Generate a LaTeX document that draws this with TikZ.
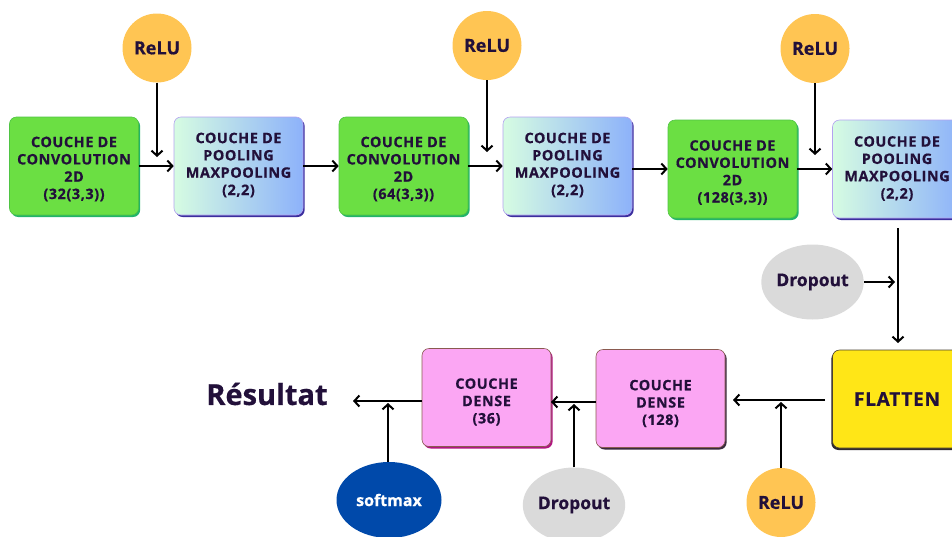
\documentclass[tikz,border=0pt]{standalone}
\usepackage{fontspec}
\setmainfont{Open Sans}[BoldFeatures={FakeBold=0.6}]
\newfontfamily\spaced{Open Sans}[LetterSpace=4, BoldFeatures={FakeBold=0.6}]
\usetikzlibrary{arrows.meta,shapes.geometric,shadows}

\definecolor{ink}{HTML}{22103A}
\definecolor{convfill}{HTML}{6BDF43}
\definecolor{convedge}{HTML}{4FC443}
\definecolor{convshadow}{HTML}{22B46A}
\definecolor{poolL}{HTML}{D6FCE2}
\definecolor{poolR}{HTML}{8DB2FA}
\definecolor{pooledge}{HTML}{B3A2F0}
\definecolor{poolshadow}{HTML}{3B2E9E}
\definecolor{densefill}{HTML}{FBA6F3}
\definecolor{denseedge}{HTML}{8A5A50}
\definecolor{denseshadowA}{HTML}{B0157F}
\definecolor{denseshadowB}{HTML}{3A2A3E}
\definecolor{flatfill}{HTML}{FFE617}
\definecolor{flatedge}{HTML}{4A4030}
\definecolor{flatshadow}{HTML}{2E2A30}
\definecolor{relu}{HTML}{FFC553}
\definecolor{dropgray}{HTML}{DADADA}
\definecolor{softblue}{HTML}{0049AA}

\tikzset{
  layerbox/.style={rounded corners=7pt, minimum width=129pt, minimum height=98pt,
    inner sep=0pt, line width=0.6pt},
  conv/.style={layerbox, fill=convfill, draw=convedge,
    general shadow={fill=convshadow, shadow xshift=1.6pt, shadow yshift=-2pt}},
  pool/.style={layerbox, left color=poolL, right color=poolR, draw=pooledge,
    general shadow={fill=poolshadow, shadow xshift=1.6pt, shadow yshift=-2pt}},
  dense/.style={layerbox, fill=densefill, draw=denseedge,
    general shadow={fill=#1, shadow xshift=1.6pt, shadow yshift=-2pt}},
  flat/.style={layerbox, fill=flatfill, draw=flatedge, text=ink,
    font=\spaced\bfseries\fontsize{19pt}{22pt}\selectfont,
    general shadow={fill=flatshadow, shadow xshift=-1.2pt, shadow yshift=-2pt}},
  boxtext/.style={align=center, inner sep=0pt, text=ink,
    font=\spaced\bfseries\fontsize{14.4pt}{17.3pt}\selectfont},
  act/.style={circle, fill=relu, minimum size=69pt, inner sep=0pt, text=ink,
    font=\bfseries\fontsize{18pt}{20pt}\selectfont},
  drop/.style={ellipse, fill=dropgray, minimum width=100pt, minimum height=75pt,
    inner sep=0pt, text=ink, font=\bfseries\fontsize{17.5pt}{20pt}\selectfont},
  soft/.style={ellipse, fill=softblue, minimum width=105pt, minimum height=76pt,
    inner sep=0pt, text=white, font=\bfseries\fontsize{16pt}{18pt}\selectfont},
  arr/.style={-{Straight Barb[length=5pt,width=11pt]}, line width=2pt, black},
}

\begin{document}
\begin{tikzpicture}[x=1pt,y=-1pt]
\useasboundingbox (0,0) rectangle (952,536);
\clip (0,0) rectangle (952,536);

% feature extraction row
\node[conv] (c1) at (74,166)    {};
\node[pool] (p1) at (238.5,166) {};
\node[conv] (c2) at (403.5,166) {};
\node[pool] (p2) at (567.5,166) {};
\node[conv] (c3) at (732.5,169) {};
\node[pool] (p3) at (897,169)   {};
\node[boxtext] (c1t) at ([yshift=-3pt]c1.center) {COUCHE DE\\CONVOLUTION\\2D\\(32(3,3))};
\node[boxtext] (p1t) at ([yshift=1pt]p1.center)  {COUCHE DE\\POOLING\\MAXPOOLING\\(2,2)};
\node[boxtext] (c2t) at ([yshift=-3pt]c2.center) {COUCHE DE\\CONVOLUTION\\2D\\(64(3,3))};
\node[boxtext] (p2t) at ([yshift=1pt]p2.center)  {COUCHE DE\\POOLING\\MAXPOOLING\\(2,2)};
\node[boxtext] (c3t) at ([yshift=-3.5pt]c3.center) {COUCHE DE\\CONVOLUTION\\2D\\(128(3,3))};
\node[boxtext] (p3t) at ([yshift=0.5pt]p3.center) {COUCHE DE\\POOLING\\MAXPOOLING\\(2,2)};

% activations above the row
\node[act] (r1) at (157,48) {ReLU};
\node[act] (r2) at (487,45.5) {ReLU};
\node[act] (r3) at (815,48.5) {ReLU};

% classifier row
\node[flat] (fl) at (897,399) {FLATTEN};
\node[dense=denseshadowB] (d128) at (660.5,398.5) {};
\node[dense=denseshadowA] (d36)  at (486.5,397.5) {};
\node[boxtext] (d128t) at ([yshift=-5pt]d128.center) {COUCHE\\DENSE\\(128)};
\node[boxtext] (d36t)  at ([yshift=-4.5pt]d36.center) {COUCHE\\DENSE\\(36)};
\node[text=ink, font=\bfseries\fontsize{29pt}{32pt}\selectfont] (res) at (267,394) {Résultat};

\node[drop] (dp1) at (812.5,282) {Dropout};
\node[act]  (r4)  at (781,502.5) {ReLU};
\node[drop] (dp2) at (574,505) {Dropout};
\node[soft] (sm)  at (389,500) {softmax};

% free ends of the connectors
\coordinate (k1) at (157,157);
\coordinate (k2) at (487,152);
\coordinate (k3) at (815,155);
\coordinate (pdown) at (898,228);
\coordinate (fltop) at (898,343);
\coordinate (dpj) at (895,282);
\coordinate (flout) at (825,400);
\coordinate (d128in) at (733,400);
\coordinate (r4j) at (781,402);
\coordinate (d36in) at (551,402);
\coordinate (dp2j) at (574,404);
\coordinate (resin) at (353,401);
\coordinate (smj) at (388,403);

% connectors
\draw[arr] (c1.east) -- (p1.west);
\draw[arr] (p1.east) -- (c2.west);
\draw[arr] (c2.east) -- (p2.west);
\draw[arr] (c3.west -| p2.east) -- (c3.west);
\draw[arr] (c3.east) -- (p3.west);
\draw[arr] (r1.south) -- (k1);
\draw[arr] (r2.south) -- (k2);
\draw[arr] (r3.south) -- (k3);

\draw[arr] (pdown) -- (fltop);
\draw[arr] (dp1.east) -- (dpj);

\draw[arr] (flout) -- (d128in);
\draw[arr] (r4.north) -- (r4j);
\draw[arr] (d128.west |- d36in) -- (d36in);
\draw[arr] (dp2.north) -- (dp2j);
\draw[arr] (d36.west |- resin) -- (resin);
\draw[arr] (sm.north -| smj) -- (smj);
\end{tikzpicture}
\end{document}
